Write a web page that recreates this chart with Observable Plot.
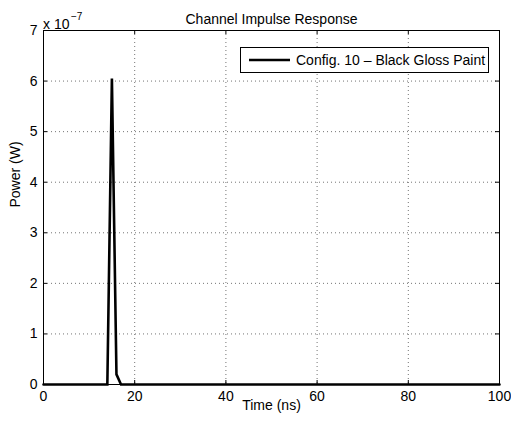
<!DOCTYPE html>
<html>
<head>
<meta charset="utf-8">
<script src="https://cdn.jsdelivr.net/npm/d3@7"></script>
<script src="https://cdn.jsdelivr.net/npm/@observablehq/plot@0.6"></script>
<style>
  html, body { margin: 0; padding: 0; background: #fff; }
</style>
</head>
<body>
<script>
// Data
const timeNs = [0, 14, 15, 16, 17, 100];
const powerW = [0, 0, 6.05e-7, 0.2e-7, 0, 0];
const xTicks = [0, 20, 40, 60, 80, 100];
const yTickLabels = [0, 1, 2, 3, 4, 5, 6, 7];
const yExponent = -7;
const seriesName = "Config. 10 \u2013 Black Gloss Paint";
const titleText = "Channel Impulse Response";
const xLabel = "Time (ns)";
const yLabel = "Power (W)";

const scaleFactor = Math.pow(10, yExponent);
const yTicks = yTickLabels.map(v => v * scaleFactor);
const data = timeNs.map((t, i) => ({t, p: powerW[i]}));

const W = 511, H = 428;
const mL = 43, mR = 12, mT = 30, mB = 44;
const frameH = H - mT - mB;
const frameW = W - mL - mR;
const tickLen = 4;
const font = "'Liberation Sans', Arial, Helvetica, sans-serif";

const gridStyle = {stroke: "#000", strokeOpacity: 0.55, strokeDasharray: "1,3", strokeWidth: 1};

const svg = Plot.plot({
  width: W,
  height: H,
  marginLeft: mL,
  marginRight: mR,
  marginTop: mT,
  marginBottom: mB,
  style: {fontFamily: font, fontSize: "14px", background: "#fff", color: "#000"},
  x: {domain: [0, 100], label: null},
  y: {domain: [0, 7 * scaleFactor], label: null},
  marks: [
    Plot.gridX(xTicks.filter(v => v > 0 && v < 100), gridStyle),
    Plot.gridY(yTicks.filter((v, i) => i > 0 && i < yTicks.length - 1), gridStyle),
    // inward tick marks on all four sides
    Plot.tickX(xTicks, {x: d => d, insetTop: frameH - tickLen, stroke: "#000"}),
    Plot.tickX(xTicks, {x: d => d, insetBottom: frameH - tickLen, stroke: "#000"}),
    Plot.tickY(yTicks, {y: d => d, insetRight: frameW - tickLen, stroke: "#000"}),
    Plot.tickY(yTicks, {y: d => d, insetLeft: frameW - tickLen, stroke: "#000"}),
    Plot.axisX(xTicks, {tickSize: 0, tickPadding: 7, fontSize: 14, label: null}),
    Plot.axisY(yTicks, {tickSize: 0, tickPadding: 6, fontSize: 14, label: null,
      tickFormat: d => String(Math.round(d / scaleFactor))}),
    Plot.frame({stroke: "#000", strokeWidth: 1}),
    Plot.line(data, {x: "t", y: "p", stroke: "#000", strokeWidth: 2.6, strokeLinejoin: "miter", strokeMiterlimit: 2}),
    Plot.text([titleText], {frameAnchor: "top", dy: -16, fontSize: 14}),
    Plot.text([xLabel], {frameAnchor: "bottom", dy: 25.5, fontSize: 14}),
    Plot.text([yLabel], {frameAnchor: "left", dx: -28, rotate: -90, fontSize: 14}),
    Plot.text(["x 10"], {frameAnchor: "top-left", textAnchor: "start", dx: -0.5, dy: -11, fontSize: 14}),
    Plot.text([String(yExponent).replace("-", "\u2212")], {frameAnchor: "top-left", textAnchor: "start", dx: 27.5, dy: -18, fontSize: 10})
  ]
});

// Legend box (MATLAB-style, inside the axes, top-right)
const g = d3.select(svg).append("g").attr("class", "legend");
const lx = 240, ly = 47, lw = 248, lh = 25;
g.append("rect").attr("x", lx + 0.5).attr("y", ly + 0.5).attr("width", lw).attr("height", lh)
  .attr("fill", "#fff").attr("stroke", "#000").attr("stroke-width", 1);
g.append("line").attr("x1", lx + 9).attr("x2", lx + 50).attr("y1", ly + 13).attr("y2", ly + 13)
  .attr("stroke", "#000").attr("stroke-width", 2.6);
g.append("text").attr("x", lx + 56).attr("y", ly + 13).attr("dy", "0.35em")
  .attr("text-anchor", "start")
  .attr("font-family", font).attr("font-size", 14).attr("fill", "#000").text(seriesName);

document.body.appendChild(svg);
</script>
</body>
</html>
